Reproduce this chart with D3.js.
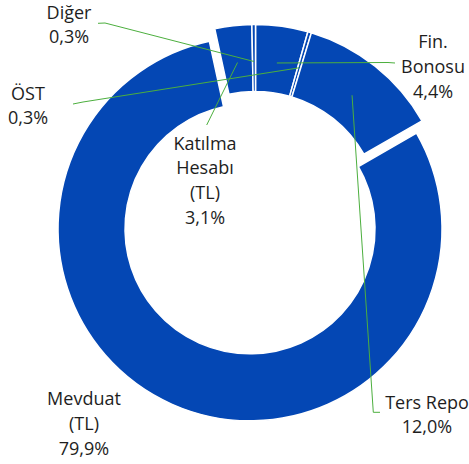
<!DOCTYPE html>
<html>
<head>
<meta charset="utf-8">
<script src="https://cdn.jsdelivr.net/npm/d3@7"></script>
<style>
  html, body { margin: 0; padding: 0; background: #fff; }
  text { font-family: "Open Sans", sans-serif; font-size: 18px; fill: #1e1e1e; }
</style>
</head>
<body>
<div id="chart"></div>
<script>
// données (ordre Excel, sens horaire depuis midi)
const categories = ["Fin. Bonosu", "ÖST", "Ters Repo", "Mevduat (TL)", "Katılma Hesabı (TL)", "Diğer"];
const values = [4.4, 0.3, 12.0, 79.9, 3.1, 0.3];
const labelLines = [
    ["Fin.", "Bonosu", "4,4%"],
    ["ÖST", "0,3%"],
    ["Ters Repo", "12,0%"],
    ["Mevduat", "(TL)", "79,9%"],
    ["Katılma", "Hesabı", "(TL)", "3,1%"],
    ["Diğer", "0,3%"]
];

// mise en page des étiquettes (x centre, y première ligne) et début des lignes de rappel
const labelPos = [[433, 48], [28, 99.5], [427, 408.5], [84, 405], [205, 149.5], [69, 18.5]];
const leaderStart = [[[395, 63], [388, 62.5]], [[73, 104], [83, 102]], [[380, 412.3], [373.3, 412.3]], null, [[206.7, 125]], [[98, 23.3], [105, 23]]];
const explode = [0, 0, 0, 13.5, 0, 0];

const width = 469, height = 464;
const cx = 255.5, cy = 216.5;
const outerR = 192, innerR = 125;
const lineH = 24.8;
const blue = "#0447b4";
const green = "#4caf3e";

const svg = d3.select("#chart").append("svg")
    .attr("width", width)
    .attr("height", height);

const pie = d3.pie().sort(null).value(d => d)
    .startAngle(0).endAngle(2 * Math.PI);
const arcs = pie(values);

const arc = d3.arc().innerRadius(innerR).outerRadius(outerR);
const midArc = d3.arc().innerRadius(155).outerRadius(155);

const g = svg.append("g").attr("transform", "translate(" + cx + "," + cy + ")");

// décalage d'une tranche le long de sa bissectrice
const offset = (d, i) => {
    const a = (d.startAngle + d.endAngle) / 2;
    return [explode[i] * Math.sin(a), -explode[i] * Math.cos(a)];
};

g.selectAll("path.slice")
    .data(arcs)
    .enter().append("path")
    .attr("class", "slice")
    .attr("d", arc)
    .attr("transform", (d, i) => "translate(" + offset(d, i) + ")")
    .attr("fill", blue)
    .attr("stroke", "#fff")
    .attr("stroke-width", 1.5);

// lignes de rappel
const line = d3.line();
arcs.forEach((d, i) => {
    if (!leaderStart[i]) return;
    const c = midArc.centroid(d);
    const o = offset(d, i);
    const pts = leaderStart[i].concat([[cx + c[0] + o[0], cy + c[1] + o[1]]]);
    svg.append("path")
        .attr("d", line(pts))
        .attr("fill", "none")
        .attr("stroke", green)
        .attr("stroke-width", 1);
});

// étiquettes
categories.forEach((name, i) => {
    const t = svg.append("text")
        .attr("text-anchor", "middle")
        .attr("x", labelPos[i][0])
        .attr("y", labelPos[i][1]);
    labelLines[i].forEach((s, j) => {
        t.append("tspan")
            .attr("x", labelPos[i][0])
            .attr("y", labelPos[i][1] + j * lineH)
            .text(s);
    });
});
</script>
</body>
</html>
